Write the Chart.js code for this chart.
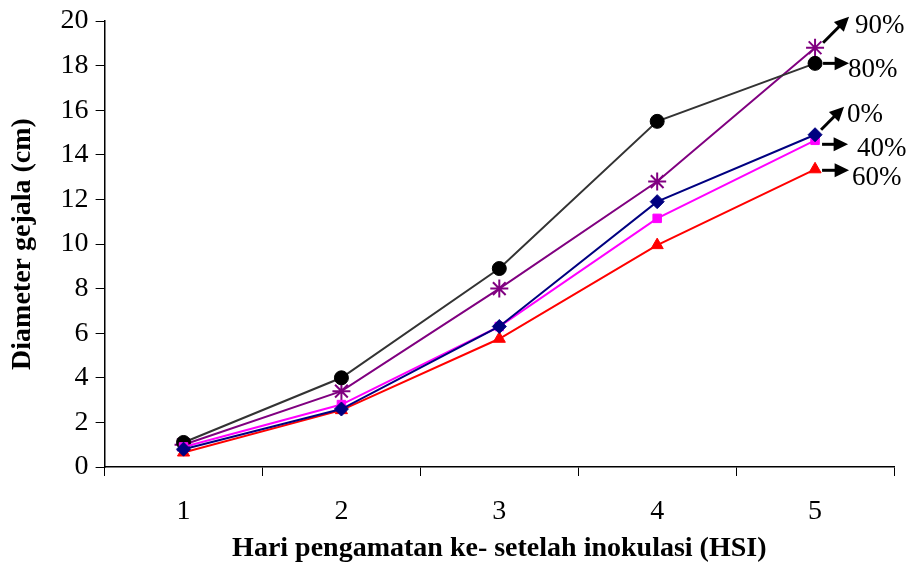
<!DOCTYPE html>
<html>
<head>
<meta charset="utf-8">
<script src="https://cdn.jsdelivr.net/npm/chart.js@4.4.1/dist/chart.umd.min.js"></script>
<style>
  body { margin: 0; background: #fff; }
  #wrap { width: 908px; height: 563px; }
</style>
</head>
<body>
<div id="wrap"><canvas id="chart"></canvas></div>
<script>
// data
const days = ['1', '2', '3', '4', '5'];
const labels = ['0%', '40%', '60%', '80%', '90%'];
const d0 = [0.8, 2.6, 6.3, 11.9, 14.9];
const d40 = [0.9, 2.8, 6.3, 11.15, 14.65];
const d60 = [0.65, 2.55, 5.75, 9.95, 13.35];
const d80 = [1.1, 4.0, 8.9, 15.5, 18.1];
const d90 = [1.0, 3.4, 8.0, 12.8, 18.8];
const yTicks = [0, 2, 4, 6, 8, 10, 12, 14, 16, 18, 20];

const serif = '"Liberation Serif", "Times New Roman", serif';

// where the end labels + arrows sit, relative to the last point
const endNotes = [
  { dx1: 6, dy1: -5, dx2: 29, dy2: -28, tx: 32, ty: -20 },    // 0%
  { dx1: 7, dy1: 4, dx2: 33, dy2: 4, tx: 42, ty: 9 },         // 40%
  { dx1: 7, dy1: 1, dx2: 34, dy2: 1, tx: 37, ty: 9 },         // 60%
  { dx1: 8, dy1: 0, dx2: 34, dy2: 0, tx: 33, ty: 7 },         // 80%
  { dx1: 8, dy1: -5, dx2: 34, dy2: -31, tx: 40, ty: -22 }     // 90%
];

const drawArrow = (c, x1, y1, x2, y2) => {
  const a = Math.atan2(y2 - y1, x2 - x1);
  const h = 16;
  c.beginPath();
  c.moveTo(x1, y1);
  c.lineTo(x2 - Math.cos(a) * h * 0.8, y2 - Math.sin(a) * h * 0.8);
  c.lineWidth = 3;
  c.strokeStyle = '#000';
  c.stroke();
  c.beginPath();
  c.moveTo(x2, y2);
  c.lineTo(x2 - h * Math.cos(a - 0.45), y2 - h * Math.sin(a - 0.45));
  c.lineTo(x2 - h * Math.cos(a + 0.45), y2 - h * Math.sin(a + 0.45));
  c.closePath();
  c.fillStyle = '#000';
  c.fill();
};

const endLabelPlugin = {
  id: 'endLabels',
  afterDatasetsDraw(chart) {
    const c = chart.ctx;
    c.save();
    chart.data.datasets.forEach((ds, i) => {
      const meta = chart.getDatasetMeta(i);
      const pt = meta.data[meta.data.length - 1];
      const n = endNotes[i];
      drawArrow(c, pt.x + n.dx1, pt.y + n.dy1, pt.x + n.dx2, pt.y + n.dy2);
      c.font = '27px ' + serif;
      c.fillStyle = '#000';
      c.textBaseline = 'middle';
      c.textAlign = 'left';
      c.fillText(ds.label, pt.x + n.tx, pt.y + n.ty);
    });
    c.restore();
  }
};

const mk = (label, data, line, fill, style, r) => ({
  label: label,
  data: data,
  borderColor: line,
  backgroundColor: fill,
  pointBackgroundColor: fill,
  pointBorderColor: fill,
  pointStyle: style,
  pointRadius: r,
  pointBorderWidth: style === 'star' ? 2 : 1,
  borderWidth: 2,
  tension: 0,
  clip: false
});

const ctx = document.getElementById('chart').getContext('2d');
new Chart(ctx, {
  type: 'line',
  data: {
    labels: days,
    datasets: [
      mk(labels[0], d0, '#000080', '#000080', 'rectRot', 7),
      mk(labels[1], d40, '#FF00FF', '#FF00FF', 'rect', 6),
      mk(labels[2], d60, '#FF0000', '#FF0000', 'triangle', 7),
      mk(labels[3], d80, '#333333', '#000000', 'circle', 7),
      mk(labels[4], d90, '#800080', '#800080', 'star', 9)
    ]
  },
  options: {
    responsive: true,
    maintainAspectRatio: false,
    animation: false,
    devicePixelRatio: 1,
    layout: { padding: { top: 20, right: 14, left: 6, bottom: 0 } },
    plugins: {
      legend: { display: false },
      tooltip: { enabled: false }
    },
    scales: {
      x: {
        offset: true,
        grid: { offset: true, drawOnChartArea: false, color: '#000', tickLength: 9, tickColor: '#000' },
        border: { color: '#000', width: 1.5 },
        ticks: { color: '#000', font: { family: serif, size: 28, lineHeight: 1 }, padding: 22 },
        title: {
          display: true,
          text: 'Hari pengamatan ke- setelah inokulasi (HSI)',
          color: '#000',
          font: { family: serif, size: 28, weight: 'bold', lineHeight: 1 },
          padding: { top: -13, bottom: 0 }
        }
      },
      y: {
        min: 0,
        max: 20,
        afterBuildTicks: (axis) => { axis.ticks = yTicks.map(v => ({ value: v })); },
        grid: { drawOnChartArea: false, color: '#000', tickLength: 9, tickColor: '#000' },
        border: { color: '#000', width: 1.5 },
        ticks: { color: '#000', font: { family: serif, size: 28, lineHeight: 1 }, padding: 7 },
        title: {
          display: true,
          text: 'Diameter gejala (cm)',
          color: '#000',
          font: { family: serif, size: 28, weight: 'bold' },
          padding: { top: 0, bottom: 14 }
        }
      }
    }
  },
  plugins: [endLabelPlugin]
});
</script>
</body>
</html>
